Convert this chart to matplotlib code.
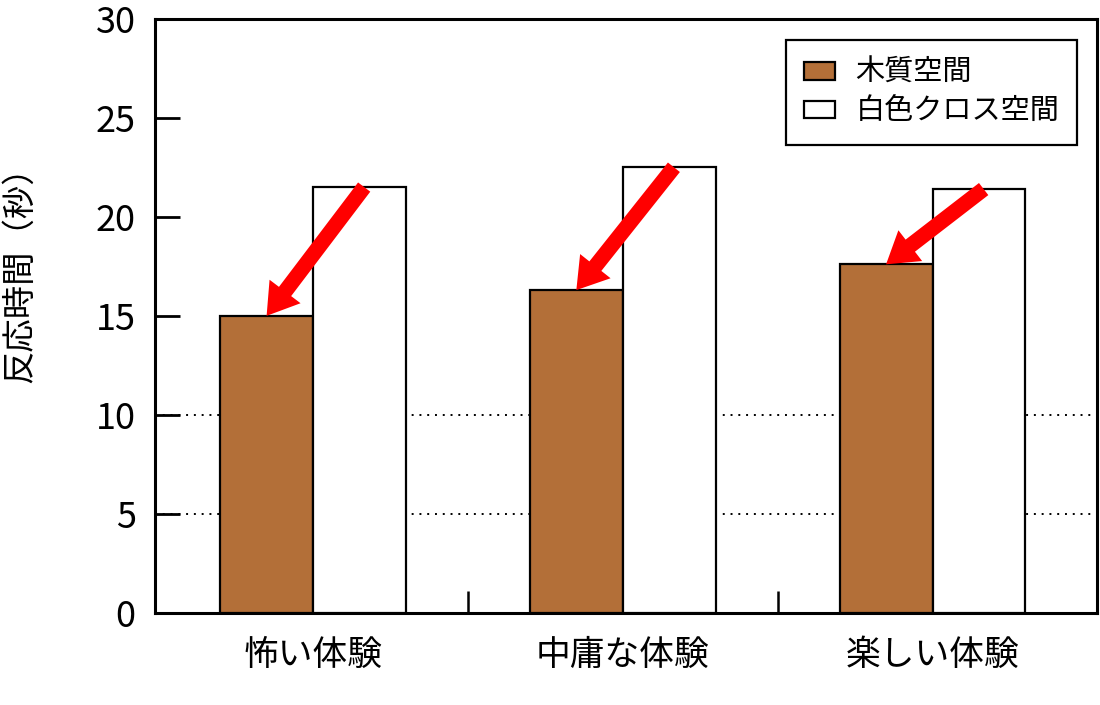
import matplotlib
matplotlib.use("Agg")
import matplotlib.pyplot as plt
import numpy as np

plt.rcParams['font.family'] = ['Noto Sans CJK JP', 'DejaVu Sans']

categories = ['怖い体験', '中庸な体験', '楽しい体験']
wood = [15.0, 16.3, 17.6]
white = [21.5, 22.5, 21.4]
series_names = ['木質空間', '白色クロス空間']
yticks = [0, 5, 10, 15, 20, 25, 30]
ylabel = '反応時間（秒）'

wood_color = '#B36F38'

fig = plt.figure(figsize=(11, 7.05), dpi=100)
ax = fig.add_axes([0.141, 0.1305, 0.856, 0.843])

x = np.arange(len(categories))
w = 0.3
ax.bar(x - w/2, wood, width=w, color=wood_color, edgecolor='black', linewidth=1.6, label=series_names[0], zorder=3)
ax.bar(x + w/2, white, width=w, color='white', edgecolor='black', linewidth=1.6, label=series_names[1], zorder=3)

for yv in (5, 10):
    ax.axhline(yv, color='black', linestyle=(0, (1, 3)), linewidth=1.4, zorder=1)

for i in range(len(categories)):
    ax.annotate('', xy=(x[i] - 0.15, wood[i]), xytext=(x[i] + 0.165, white[i]),
                arrowprops=dict(width=11, headwidth=28, headlength=22, color='#FF0000',
                                linewidth=0),
                zorder=5)

ax.set_xlim(-0.51, 2.53)
ax.set_ylim(0, 30)
ax.set_yticks(yticks)
ax.set_xticks(x)
ax.set_xticklabels(categories, fontsize=25)
ax.set_xticks([0.5, 1.5], minor=True)
ax.tick_params(axis='x', which='major', length=0, pad=18)
ax.tick_params(axis='x', which='minor', direction='in', length=16, width=1.8)
ax.tick_params(axis='y', which='major', direction='in', left=True, right=False,
               length=18, width=2.0, color='black', labelsize=26, pad=14)
ax.set_ylabel(ylabel, fontsize=24)
ax.yaxis.set_label_coords(-0.125, 0.583)

for s in ax.spines.values():
    s.set_linewidth(2.2)

leg = ax.legend(loc='upper right', fontsize=21, frameon=True, fancybox=False,
                framealpha=1, edgecolor='black', handlelength=1.05, handleheight=0.55,
                borderpad=0.62, labelspacing=0.3, handletextpad=0.7, borderaxespad=0,
                bbox_to_anchor=(0.9795, 0.964))
leg.get_frame().set_linewidth(1.6)

fig.savefig('out.png', dpi=100)
